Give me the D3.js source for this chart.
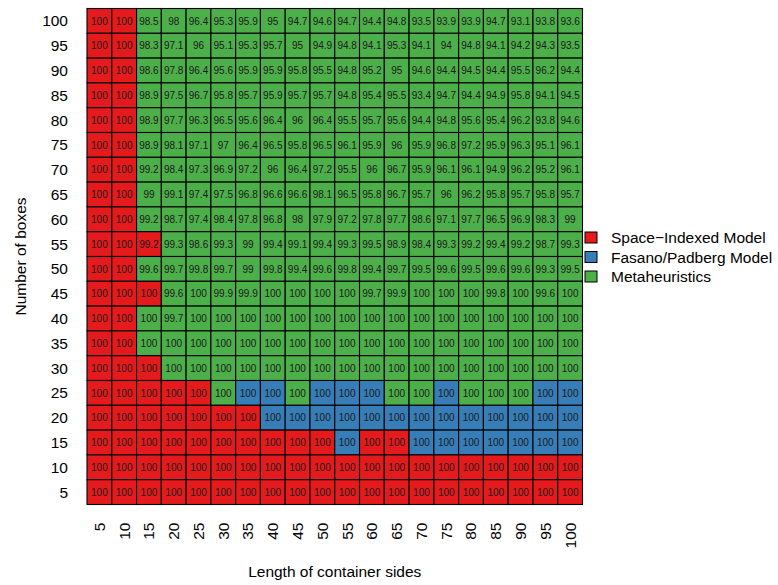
<!DOCTYPE html>
<html>
<head>
<meta charset="utf-8">
<script src="https://cdn.jsdelivr.net/npm/d3@7"></script>
<style>
  body { margin: 0; background: #fff; }
  text { font-family: "Liberation Sans", Arial, sans-serif; }
</style>
</head>
<body>
<div id="container"></div>
<script>
// container side lengths (columns) and number of boxes (rows, top to bottom)
const sides = [5, 10, 15, 20, 25, 30, 35, 40, 45, 50, 55, 60, 65, 70, 75, 80, 85, 90, 95, 100];
const boxes = [100, 95, 90, 85, 80, 75, 70, 65, 60, 55, 50, 45, 40, 35, 30, 25, 20, 15, 10, 5];

// percentage values, one row per number of boxes (top to bottom)
const values = [
  [100, 100, 98.5, 98, 96.4, 95.3, 95.9, 95, 94.7, 94.6, 94.7, 94.4, 94.8, 93.5, 93.9, 93.9, 94.7, 93.1, 93.8, 93.6],
  [100, 100, 98.3, 97.1, 96, 95.1, 95.3, 95.7, 95, 94.9, 94.8, 94.1, 95.3, 94.1, 94, 94.8, 94.1, 94.2, 94.3, 93.5],
  [100, 100, 98.6, 97.8, 96.4, 95.6, 95.9, 95.9, 95.8, 95.5, 94.8, 95.2, 95, 94.6, 94.4, 94.5, 94.4, 95.5, 96.2, 94.4],
  [100, 100, 98.9, 97.5, 96.7, 95.8, 95.7, 95.9, 95.7, 95.7, 94.8, 95.4, 95.5, 93.4, 94.7, 94.4, 94.9, 95.8, 94.1, 94.5],
  [100, 100, 98.9, 97.7, 96.3, 96.5, 95.6, 96.4, 96, 96.4, 95.5, 95.7, 95.6, 94.4, 94.8, 95.6, 95.4, 96.2, 93.8, 94.6],
  [100, 100, 98.9, 98.1, 97.1, 97, 96.4, 96.5, 95.8, 96.5, 96.1, 95.9, 96, 95.9, 96.8, 97.2, 95.9, 96.3, 95.1, 96.1],
  [100, 100, 99.2, 98.4, 97.3, 96.9, 97.2, 96, 96.4, 97.2, 95.5, 96, 96.7, 95.9, 96.1, 96.1, 94.9, 96.2, 95.2, 96.1],
  [100, 100, 99, 99.1, 97.4, 97.5, 96.8, 96.6, 96.6, 98.1, 96.5, 95.8, 96.7, 95.7, 96, 96.2, 95.8, 95.7, 95.8, 95.7],
  [100, 100, 99.2, 98.7, 97.4, 98.4, 97.8, 96.8, 98, 97.9, 97.2, 97.8, 97.7, 98.6, 97.1, 97.7, 96.5, 96.9, 98.3, 99],
  [100, 100, 99.2, 99.3, 98.6, 99.3, 99, 99.4, 99.1, 99.4, 99.3, 99.5, 98.9, 98.4, 99.3, 99.2, 99.4, 99.2, 98.7, 99.3],
  [100, 100, 99.6, 99.7, 99.8, 99.7, 99, 99.8, 99.4, 99.6, 99.8, 99.4, 99.7, 99.5, 99.6, 99.5, 99.6, 99.6, 99.3, 99.5],
  [100, 100, 100, 99.6, 100, 99.9, 99.9, 100, 100, 100, 100, 99.7, 99.9, 100, 100, 100, 99.8, 100, 99.6, 100],
  [100, 100, 100, 99.7, 100, 100, 100, 100, 100, 100, 100, 100, 100, 100, 100, 100, 100, 100, 100, 100],
  [100, 100, 100, 100, 100, 100, 100, 100, 100, 100, 100, 100, 100, 100, 100, 100, 100, 100, 100, 100],
  [100, 100, 100, 100, 100, 100, 100, 100, 100, 100, 100, 100, 100, 100, 100, 100, 100, 100, 100, 100],
  [100, 100, 100, 100, 100, 100, 100, 100, 100, 100, 100, 100, 100, 100, 100, 100, 100, 100, 100, 100],
  [100, 100, 100, 100, 100, 100, 100, 100, 100, 100, 100, 100, 100, 100, 100, 100, 100, 100, 100, 100],
  [100, 100, 100, 100, 100, 100, 100, 100, 100, 100, 100, 100, 100, 100, 100, 100, 100, 100, 100, 100],
  [100, 100, 100, 100, 100, 100, 100, 100, 100, 100, 100, 100, 100, 100, 100, 100, 100, 100, 100, 100],
  [100, 100, 100, 100, 100, 100, 100, 100, 100, 100, 100, 100, 100, 100, 100, 100, 100, 100, 100, 100]
];

// winning method per cell: S = Space-Indexed, F = Fasano/Padberg, M = Metaheuristics
const winners = [
  "SSMMMMMMMMMMMMMMMMMM",
  "SSMMMMMMMMMMMMMMMMMM",
  "SSMMMMMMMMMMMMMMMMMM",
  "SSMMMMMMMMMMMMMMMMMM",
  "SSMMMMMMMMMMMMMMMMMM",
  "SSMMMMMMMMMMMMMMMMMM",
  "SSMMMMMMMMMMMMMMMMMM",
  "SSMMMMMMMMMMMMMMMMMM",
  "SSMMMMMMMMMMMMMMMMMM",
  "SSSMMMMMMMMMMMMMMMMM",
  "SSMMMMMMMMMMMMMMMMMM",
  "SSSMMMMMMMMMMMMMMMMM",
  "SSMMMMMMMMMMMMMMMMMM",
  "SSMMMMMMMMMMMMMMMMMM",
  "SSSMMMMMMMMMMMMMMMMM",
  "SSSSSMFFMFFFMMFMMMFF",
  "SSSSSSSFFFFFFFFFFFFF",
  "SSSSSSSSSSFSSFFFFFFF",
  "SSSSSSSSSSSSSSSSSSSS",
  "SSSSSSSSSSSSSSSSSSSS"
];

const methodKeys = ["S", "F", "M"];
const methodNames = ["Space\u2212Indexed Model", "Fasano/Padberg Model", "Metaheuristics"];
const methodColors = ["#E41A1C", "#377EB8", "#4DAF4A"];

// flatten into cells
const cells = [];
boxes.forEach(function(b, i){
    sides.forEach(function(s, j){
        cells.push({ side: s, boxes: b, value: values[i][j], method: winners[i][j] });
    });
});

// set dimensions
const w = 778;
const h = 585;
const plotLeft = 87, plotRight = 582.5, plotTop = 8.5, plotBottom = 504.5;

const xScale = d3.scaleBand()
                 .domain(sides)
                 .range([plotLeft, plotRight]);
const yScale = d3.scaleBand()
                 .domain(boxes)
                 .range([plotTop, plotBottom]);
const color = d3.scaleOrdinal()
                .domain(methodKeys)
                .range(methodColors);

const svg = d3.select("#container")
              .append("svg")
              .attr("width", w)
              .attr("height", h);

// cells
svg.selectAll("rect.cell")
   .data(cells)
   .enter()
   .append("rect")
   .attr("class", "cell")
   .attr("x", (d) => xScale(d.side))
   .attr("y", (d) => yScale(d.boxes))
   .attr("width", xScale.bandwidth())
   .attr("height", yScale.bandwidth())
   .style("fill", (d) => color(d.method))
   .style("stroke", "#000")
   .style("stroke-width", 1.1);

// cell labels
svg.selectAll("text.val")
   .data(cells)
   .enter()
   .append("text")
   .attr("class", "val")
   .attr("x", (d) => xScale(d.side) + xScale.bandwidth() / 2)
   .attr("y", (d) => yScale(d.boxes) + yScale.bandwidth() / 2)
   .attr("dy", "0.36em")
   .attr("text-anchor", "middle")
   .style("font-size", "10px")
   .style("fill", "#1a1a1a")
   .text((d) => d.value);

// axes
const xAxis = d3.axisBottom(xScale).tickSize(0).tickPadding(0);
const yAxis = d3.axisLeft(yScale).tickSize(0).tickPadding(0);

const gx = svg.append("g")
   .attr("transform", "translate(0," + plotBottom + ")")
   .call(xAxis);
gx.select(".domain").remove();
gx.selectAll("text")
  .style("font-size", "15.5px")
  .style("fill", "#000")
  .style("text-anchor", "end")
  .attr("x", -18)
  .attr("y", 0)
  .attr("dy", "0.35em")
  .attr("transform", "rotate(-90)");

const gy = svg.append("g")
   .attr("transform", "translate(68,0)")
   .call(yAxis);
gy.select(".domain").remove();
gy.selectAll("text")
  .style("font-size", "15.5px")
  .style("fill", "#000")
  .attr("dy", "0.36em");

// axis titles
svg.append("text")
   .attr("x", (plotLeft + plotRight) / 2)
   .attr("y", 577)
   .attr("text-anchor", "middle")
   .style("font-size", "15.5px")
   .text("Length of container sides");

svg.append("text")
   .attr("transform", "translate(26," + ((plotTop + plotBottom) / 2) + ") rotate(-90)")
   .attr("text-anchor", "middle")
   .style("font-size", "15.5px")
   .text("Number of boxes");

// legend
const legend = svg.append("g")
   .attr("transform", "translate(585,232)");
const item = legend.selectAll("g")
   .data(methodKeys)
   .enter()
   .append("g")
   .attr("transform", (d, i) => "translate(0," + (i * 19.5) + ")");
item.append("rect")
    .attr("width", 12)
    .attr("height", 11)
    .style("fill", (d) => color(d))
    .style("stroke", "#000")
    .style("stroke-width", 1);
item.append("text")
    .attr("x", 26)
    .attr("y", 5.5)
    .attr("dy", "0.36em")
    .style("font-size", "15.5px")
    .text((d, i) => methodNames[i]);
</script>
</body>
</html>
